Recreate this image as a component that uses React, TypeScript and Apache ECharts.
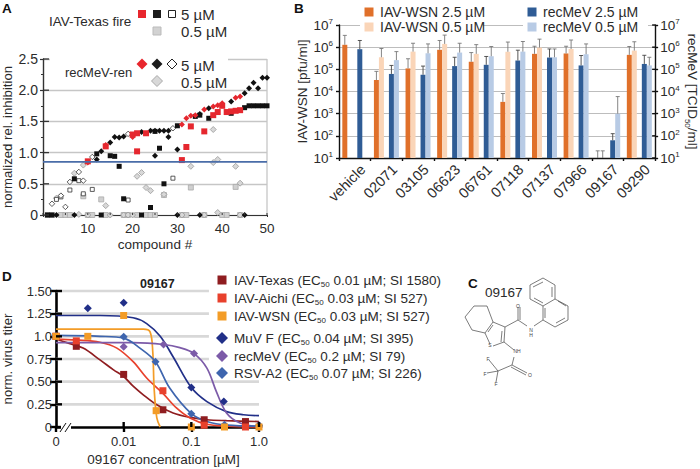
import React, { useEffect, useRef } from "react";
import * as echarts from "echarts";

const FONT = "Liberation Sans";
const INK = "#2b2b2b";

// ---------- Panel A ----------
const aRedSquares = [[10,0.86],[14,1.1],[20,1.29],[21,1.31],[21,1.02],[23,1.31],[31,0.88],[32,1.09],[33,1.42],[36,1.34],[38,1.6],[39,1.65],[40,1.75],[41,1.65],[42,1.66],[43,1.67],[44,1.68]];
const aRedDiamonds = [[10,0.84],[14,1.12],[20,1.25],[31,1.45],[32,1.55],[33,1.59],[34,1.6],[36,1.69],[38,1.74],[39,1.76],[40,1.79],[43,1.88],[44,1.9]];
const aBlackSquares = [[1,0],[2,0],[7,0.58],[12,0.98],[13,0],[15,0.95],[16,0.94],[17,0.78],[18,0.26],[22,0],[24,0.12],[25,1.34],[26,1.07],[27,0.5],[30,1.43],[34,1.58],[35,1.6],[37,1.55],[42,1.63],[45,1.72],[46,1.75],[47,1.75],[48,1.75],[49,1.75],[50,1.75]];
const aBlackDiamonds = [[3,0],[7,0],[12,0.89],[13,1.02],[15,1.16],[16,1.25],[17,1.24],[18,1.26],[22,1.33],[24,1.35],[25,1.35],[26,1.35],[27,1.35],[28,1.35],[28,1.25],[25,0.95],[30,1.05],[30,0],[35,1.62],[35,0],[37,1.71],[42,1.82],[45,1.95],[45,0],[46,2.03],[47,2.12],[48,2.03],[49,2.2],[50,2.2]];
const aOpenSquares = [[3,0.25],[4,0.29],[6,0.4],[8,0.55],[9,0.34],[11,0.41],[19,0.24],[29,0.59]];
const aOpenDiamonds = [[2,0.18],[4,0.31],[5,0.13],[6,0.53],[8,0.69],[9,0.55],[11,0.93],[19,1.3],[29,1.39]];
const aGraySquares = [[1,0],[2,0],[4,0],[5,0],[6,0],[9,0.3],[10,0],[11,0],[13,0.25],[14,0],[18,0],[19,0],[21,0],[23,0],[24,0],[25,0],[27,0.32],[31,0],[32,0],[33,0.44],[36,0],[40,0],[41,0],[43,0.45],[44,0]];
const aGrayDiamonds = [[3,0.27],[7,0.67],[8,0.01],[9,0.8],[10,0],[14,0.15],[15,0],[18,0],[19,0],[20,0],[21,0.62],[22,0.68],[23,0.44],[24,0.39],[27,0.33],[31,0],[33,0.78],[36,0],[38,1.37],[38,0.84],[39,0.89],[39,0.04],[43,0.78],[44,0.51],[44,0]];
const aThreshold = 0.85;

// ---------- Panel B ----------
const bCategories = ["vehicle","02071","03105","06623","06761","07118","07137","07966","09167","09290"];
const wsn25 = [1.28e6,3.3e4,1.1e5,7.6e5,2.2e5,3.4e3,5e5,5.2e5,null,4.5e5];
const wsn25Err = [3.4e6,8.1e4,3e5,2e6,5.7e5,8.1e3,1.1e6,1.1e6,21,1.07e6];
const wsn05 = [null,3.5e5,6.3e5,1.4e6,5e5,6.2e5,9.6e5,8.3e5,null,7e5];
const wsn05Err = [null,8.7e5,1.5e6,3.5e6,1.3e6,1.7e6,2.3e6,2.1e6,21,1.75e6];
const mev25 = [8.1e5,6.2e4,5.7e4,1.4e5,1.6e5,2.5e5,3.4e5,1.5e5,63,1.75e5];
const mev25Err = [2e6,1.5e5,1.4e5,3.5e5,3.8e5,7.3e5,8.3e5,4.2e5,125,4.3e5];
const mev05 = [null,2.6e5,5.3e5,5.7e5,3.9e5,6.3e5,3.5e5,4.8e5,1e3,1.5e5];
const mev05Err = [null,6.3e5,1.4e6,1.5e6,1.07e6,1.8e6,8.3e5,1.4e6,5.9e3,3.5e5];
const bTicks = [1e1,1e2,1e3,1e4,1e5,1e6,1e7];

// ---------- Panel D (x = log10 of the concentration; the "0" dose sits at -3) ----------
const dXLabels: Record<string,string> = { "-3":"0", "-2":"0.01", "-1":"0.1", "0":"1.0" };
const dYLabels = ["0","0.25","0.50","0.75","1.0","1.25","1.50"];
const texasCurve = [[-3,0.97],[-2.84,0.93],[-2.6,0.87],[-2.35,0.74],[-2.15,0.63],[-2,0.557],[-1.86,0.45],[-1.71,0.355],[-1.51,0.245],[-1.27,0.154],[-1.02,0.106],[-0.77,0.08],[-0.48,0.07],[0,0.06]];
const aichiCurve = [[-3,0.97],[-2.7,0.96],[-2.35,0.935],[-2.1,0.87],[-1.86,0.72],[-1.66,0.54],[-1.42,0.37],[-1.22,0.21],[-1.02,0.1],[-0.77,0.03],[-0.48,0.01],[0,0]];
const wsnCurve = [[-3,1.08],[-2.35,1.08],[-1.71,1.08],[-1.61,1.05],[-1.57,0.83],[-1.55,0.43],[-1.51,0.1],[-1.46,0]];
const muvCurve = [[-3,1.23],[-2.35,1.23],[-1.86,1.205],[-1.66,1.14],[-1.46,1],[-1.27,0.775],[-1,0.435],[-0.77,0.28],[-0.48,0.17],[-0.23,0.135],[0,0.125]];
const recMevCurve = [[-3,0.93],[-1.86,0.93],[-1.41,0.91],[-1.17,0.875],[-0.96,0.81],[-0.77,0.65],[-0.63,0.39],[-0.48,0.155],[-0.28,0.044],[0,0.004]];
const rsvCurve = [[-3,1.01],[-2.35,1],[-2,0.98],[-1.76,0.87],[-1.53,0.72],[-1.32,0.43],[-1,0.147],[-0.77,0.06],[-0.48,0.02],[0,0.01]];
const texasPts = [[-3,1],[-2.7,0.89],[-2,0.58],[-1.42,0.19],[-0.81,0.08],[-0.2,0.06]];
const aichiPts = [[-3,1],[-2.7,0.95],[-1.42,0.4],[-0.81,0.02],[-0.2,0]];
const wsnPts = [[-3,1],[-2.53,1],[-2,1.23],[-1.52,0.18],[-1,0],[-0.51,0],[0,0]];
const muvPts = [[-2.53,1.31],[-2,1.37],[-1,0.435],[-0.52,0.28],[0,0.02]];
const recMevPts = [[-3,1],[-2,0.885],[-1.41,0.91],[-0.96,0.81],[0,0]];
const rsvPts = [[-3,1],[-2,0.995],[-1.53,0.72],[-1,0.147],[-0.51,0.025],[0,0.01]];
const dLegend = [
  ["IAV-Texas (EC","0.01 µM; SI 1580)"],
  ["IAV-Aichi (EC","0.03 µM; SI 527)"],
  ["IAV-WSN (EC","0.03 µM; SI 527)"],
  ["MuV F (EC","0.04 µM; SI 395)"],
  ["recMeV (EC","0.2 µM; SI 79)"],
  ["RSV-A2 (EC","0.07 µM; SI 226)"],
];
const dColors = ["#8f1d20","#e8412c","#f39c27","#212f88","#7c5ba8","#3e65ae"];

// ---------- Panel C: skeletal bonds, in the picture's pixels ----------
const chemBonds = [
  [[530,285],[543,278],[555,285],[555,299],[543,306],[530,299],[530,285]],
  [[555,299],[568,306],[568,320],[555,327],[543,320],[543,306]],
  [[533,287],[543,282]],[[552,287],[552,297]],[[534,298],[543,303]],
  [[558,301],[566,306]],[[565,318],[556,323]],[[545,318],[545,308]],
  [[543,320],[534,326]],[[527,326],[518,320]],[[518,320],[518,307]],[[520,320],[520,307]],
  [[518,320],[505,327]],[[505,327],[493,322],[485,333],[490,344]],[[493,346],[504,342],[505,327]],
  [[501,342],[502,331]],[[493,325],[488,332]],
  [[493,322],[487,306],[474,306],[465,317],[472,330],[485,333]],
  [[504,342],[514,350]],[[514,357],[512,365]],[[512,365],[527,373]],[[511,367],[526,375]],
  [[512,365],[498,371]],[[498,371],[489,360]],[[498,371],[487,373]],[[498,371],[496,382]],
];
const chemLabels: [number,number,string][] = [[518,306,"O"],[531,330,"N"],[531,335,"H"],[490,345,"S"],[517,351,"NH"],[530,375,"O"],[488,359,"F"],[485,374,"F"],[496,384,"F"]];

const squareSym = "rect";
const diamondSym = "diamond";

function scatter(gridIdx: number, data: number[][], symbol: string, size: number, color: string, border?: string, z = 5) {
  return {
    type: "scatter", xAxisIndex: gridIdx, yAxisIndex: gridIdx === 0 ? 0 : 3, data, symbol, symbolSize: size, z, clip: false,
    itemStyle: { color, borderColor: border ?? color, borderWidth: border ? 0.8 : 0, opacity: 1 },
  };
}

function errorSeries(vals: (number|null)[], errs: (number|null)[], offset: number, color: string) {
  const data = errs.map((e, i) => (e == null ? null : [i, vals[i] ?? 10, e])).filter(Boolean);
  return {
    type: "custom", xAxisIndex: 1, yAxisIndex: 1, data, z: 4,
    renderItem: (_p: any, api: any) => {
      const b = api.coord([api.value(0), api.value(1)]);
      const t = api.coord([api.value(0), api.value(2)]);
      const x = b[0] + offset;
      const st = { stroke: color, lineWidth: 0.9 };
      return { type: "group", children: [
        { type: "line", shape: { x1: x, y1: b[1], x2: x, y2: t[1] }, style: st },
        { type: "line", shape: { x1: x - 2, y1: t[1], x2: x + 2, y2: t[1] }, style: st },
      ]};
    },
  };
}

// inward half of the ticks that cross an axis
function inwardTicks(xi: number, yi: number, vals: number[], orient: "x"|"y", len: number, color: string, w: number, edge: "start"|"end" = "start") {
  return {
    type: "custom", xAxisIndex: xi, yAxisIndex: yi, z: 9, silent: true,
    data: vals.map(v => (orient === "y" ? [0, v] : [v, 0])),
    renderItem: (p: any, api: any) => {
      const cs = p.coordSys;
      const c = api.coord([api.value(0), api.value(1)]);
      const st = { stroke: color, lineWidth: w };
      if (orient === "y") {
        const x = edge === "start" ? cs.x : cs.x + cs.width;
        const d = edge === "start" ? len : -len;
        return { type: "line", shape: { x1: x, y1: c[1], x2: x + d, y2: c[1] }, style: st };
      }
      return { type: "line", shape: { x1: c[0], y1: cs.y + cs.height, x2: c[0], y2: cs.y + cs.height - len }, style: st };
    },
  };
}

function bandLine(xi: number, yi: number, rows: number[][], color: string, width: number) {
  return {
    type: "custom", xAxisIndex: xi, yAxisIndex: yi, z: 1, silent: true, data: rows,
    renderItem: (_p: any, api: any) => {
      const a = api.coord([api.value(0), api.value(2)]);
      const b = api.coord([api.value(1), api.value(2)]);
      return { type: "line", shape: { x1: a[0], y1: a[1], x2: b[0], y2: b[1] }, style: { stroke: color, lineWidth: width } };
    },
  };
}

function txt(x: number, y: number, text: string, size = 13.5, extra: any = {}) {
  const { rotation, ...style } = extra;
  return { type: "text", x, y, rotation, z: 20, silent: true, style: { text, fontSize: size, fontFamily: FONT, fill: INK, verticalAlign: "middle", ...style } };
}
function sq(cx: number, cy: number, s: number, fill: string, stroke?: string) {
  return { type: "rect", z: 20, silent: true, shape: { x: cx - s/2, y: cy - s/2, width: s, height: s }, style: { fill, stroke: stroke ?? fill, lineWidth: stroke ? 1 : 0 } };
}
function dia(cx: number, cy: number, r: number, fill: string, stroke?: string) {
  return { type: "polygon", z: 20, silent: true, shape: { points: [[cx,cy-r],[cx+r,cy],[cx,cy+r],[cx-r,cy]] }, style: { fill, stroke: stroke ?? fill, lineWidth: stroke ? 1 : 0 } };
}
const subRich = {
  b: { fontSize: 13.5, fontFamily: FONT, fill: INK, color: INK, lineHeight: 17 },
  s: { fontSize: 8, fontFamily: FONT, fill: INK, color: INK, verticalAlign: "bottom", lineHeight: 17 },
};

export default function App() {
  const ref = useRef<HTMLDivElement>(null);
  useEffect(() => {
    document.body.style.margin = "0";
    const chart = echarts.init(ref.current!, undefined, { renderer: "svg" });
    const axisTxt = { fontFamily: FONT, color: INK };
    const supRich = {
      b: { fontSize: 13.5, fontFamily: FONT, color: INK, lineHeight: 15 },
      s: { fontSize: 8, fontFamily: FONT, color: INK, verticalAlign: "top", lineHeight: 15 },
    };
    const logFmt = (v: number) => `{b|10}{s|${Math.round(Math.log10(v))}}`;
    const bLog = {
      type: "log", logBase: 10, gridIndex: 1, min: 10, max: 1e7,
      axisLine: { show: true, onZero: false, lineStyle: { color: "#111", width: 1.4 } },
      axisTick: { show: true, length: 3, lineStyle: { color: "#111", width: 1.4 } },
      minorTick: { show: false }, minorSplitLine: { show: false },
    };

    const graphic: any[] = [
      txt(2, 8, "A", 13.5, { fontWeight: "bold", fill: "#111" }),
      txt(294, 8, "B", 13.5, { fontWeight: "bold", fill: "#111" }),
      txt(468, 283, "C", 13.5, { fontWeight: "bold", fill: "#111" }),
      txt(2, 276, "D", 13.5, { fontWeight: "bold", fill: "#111" }),
      // panel A key
      { type: "rect", z: 15, silent: true, shape: { x: 50, y: 56, width: 178, height: 6 }, style: { fill: "#fff" } },
      txt(49, 21, "IAV-Texas fire", 13.5),
      sq(142, 14, 8, "#e8262d"), sq(157, 14, 8, "#1c1c1c"), sq(172, 14, 7, "#fff", "#222"),
      txt(181, 14, "5 µM", 15), sq(157, 31, 8, "#d2d2d2", "#bbb"), txt(181, 31, "0.5 µM", 15),
      txt(65, 72, "recMeV-ren", 13),
      dia(142, 64, 5.5, "#e8262d"), dia(157, 64, 5.5, "#1c1c1c"), dia(172, 64, 5, "#fff", "#222"),
      txt(181, 65, "5 µM", 15), dia(157, 81, 5.5, "#d8d8d8", "#aaa"), txt(181, 82, "0.5 µM", 15),
      // panel B key, on white over the top gridline
      { type: "rect", z: 15, silent: true, shape: { x: 360, y: 21, width: 123, height: 8 }, style: { fill: "#fff" } },
      { type: "rect", z: 15, silent: true, shape: { x: 523, y: 21, width: 125, height: 8 }, style: { fill: "#fff" } },
      sq(369, 12, 9, "#e0702a"), txt(380, 12, "IAV-WSN 2.5 µM", 14),
      sq(369, 27, 9, "#fad5b8"), txt(380, 27, "IAV-WSN 0.5 µM", 14),
      sq(532, 12, 9, "#2f5c95"), txt(543, 12, "recMeV 2.5 µM", 14),
      sq(532, 27, 9, "#b8cbe5"), txt(543, 27, "recMeV 0.5 µM", 14),
      // panel D: axis break and title
      { type: "rect", z: 15, silent: true, shape: { x: 61, y: 423, width: 10, height: 8 }, style: { fill: "#fff" } },
      { type: "line", z: 16, silent: true, shape: { x1: 60, y1: 432, x2: 66, y2: 423 }, style: { stroke: "#111", lineWidth: 1 } },
      { type: "line", z: 16, silent: true, shape: { x1: 65, y1: 432, x2: 71, y2: 423 }, style: { stroke: "#111", lineWidth: 1 } },
      txt(140, 284, "09167", 12.5, { fontWeight: "bold", fill: "#222" }),
      // panel C
      txt(485, 292, "09167", 13.5),
      ...chemBonds.map(points => ({ type: "polyline", z: 20, silent: true, shape: { points }, style: { stroke: "#444", lineWidth: 0.7, fill: "none" } })),
      ...chemLabels.map(([x, y, t]) => txt(x, y, t, 5, { align: "center", fill: "#444" })),
    ];
    const dRows = [280, 298, 316, 338, 356, 373];
    dLegend.forEach((row, i) => {
      const c = dColors[i];
      graphic.push(i < 3 ? sq(222, dRows[i], 9, c) : dia(222, dRows[i], 6, c));
      graphic.push({
        type: "text", x: 234, y: dRows[i], z: 20, silent: true,
        style: { text: `{b|${row[0]}}{s|50}{b| ${row[1]}}`, rich: subRich, verticalAlign: "middle", fontFamily: FONT, fontSize: 13.5 },
      });
    });

    const curve = (data: number[][], color: string) => ({
      type: "line", xAxisIndex: 2, yAxisIndex: 3, data, smooth: 0.35, showSymbol: false, symbol: "none", z: 4, clip: false,
      lineStyle: { color, width: 1.7 },
    });

    const series: any[] = [
      // panel A
      { type: "line", xAxisIndex: 0, yAxisIndex: 0, data: [[50, 0],[50, 2.5]], symbol: "none", z: 1, lineStyle: { color: "#c6c6c6", width: 1.3 } },
      scatter(0, aGraySquares, squareSym, 5, "#d0d0d0", "#aaa", 3),
      scatter(0, aGrayDiamonds, diamondSym, 6, "#d8d8d8", "#999", 3),
      scatter(0, aOpenSquares, squareSym, 4, "#fff", "#333", 4),
      scatter(0, aOpenDiamonds, diamondSym, 5.5, "#fff", "#333", 4),
      scatter(0, aBlackSquares, squareSym, 5, "#111", undefined, 5),
      scatter(0, aBlackDiamonds, diamondSym, 6, "#111", undefined, 5),
      scatter(0, aRedDiamonds, diamondSym, 6, "#e5272e", undefined, 6),
      scatter(0, aRedSquares, squareSym, 6, "#e5272e", undefined, 7),
      { type: "line", xAxisIndex: 0, yAxisIndex: 0, data: [[0, aThreshold],[50, aThreshold]], symbol: "none", z: 8, lineStyle: { color: "#4a6da8", width: 1.8 } },
      inwardTicks(0, 0, [0,0.5,1,1.5,2,2.5], "y", 6, "#333", 1.3),
      inwardTicks(0, 0, [0,5,10,15,20,25,30,35,40,45,50], "x", 2, "#333", 1),
      // panel B
      ...[
        { data: wsn25, color: "#e0702a" },
        { data: wsn05, color: "#fad5b8" },
        { data: bCategories.map(() => null), color: "#fff" },
        { data: mev25, color: "#2f5c95" },
        { data: mev05, color: "#b8cbe5" },
      ].map(s => ({ type: "bar", xAxisIndex: 1, yAxisIndex: 1, data: s.data, barWidth: 5, barGap: 0, z: 3, itemStyle: { color: s.color } })),
      errorSeries(wsn25, wsn25Err, -10, "#777"),
      errorSeries(wsn05, wsn05Err, -5, "#777"),
      errorSeries(mev25, mev25Err, 5, "#444"),
      errorSeries(mev05, mev05Err, 10, "#777"),
      inwardTicks(1, 2, bTicks, "y", 3, "#111", 1.4, "end"),
      // panel D
      bandLine(2, 3, [[-3,-0.74,1.5],[-3,-0.74,1.25],[-3,-0.74,1],[-3,-0.74,0.75],[-3,0,0.5],[-3,0,0.25]], "#d8d8d8", 2.6),
      curve(texasCurve, dColors[0]), curve(aichiCurve, dColors[1]), curve(wsnCurve, dColors[2]),
      curve(muvCurve, dColors[3]), curve(recMevCurve, dColors[4]), curve(rsvCurve, dColors[5]),
      scatter(2, texasPts, squareSym, 7, dColors[0]),
      scatter(2, aichiPts, squareSym, 7, dColors[1]),
      scatter(2, muvPts, diamondSym, 8, dColors[3]),
      scatter(2, recMevPts, diamondSym, 8, dColors[4]),
      scatter(2, rsvPts, diamondSym, 8, dColors[5]),
      scatter(2, wsnPts, squareSym, 7, dColors[2], undefined, 6),
      inwardTicks(2, 3, [0,0.25,0.5,0.75,1,1.25,1.5], "y", 6, "#000", 2.4),
      inwardTicks(2, 3, [-2,-1,0], "x", 5, "#000", 2.4),
    ];

    chart.setOption({
      animation: false,
      backgroundColor: "#fff",
      textStyle: { fontFamily: FONT },
      graphic,
      grid: [
        { left: 43, top: 59, width: 224, height: 156 },
        { left: 339, top: 25, width: 320, height: 133 },
        { left: 56, top: 291, width: 203, height: 136 },
      ],
      xAxis: [
        {
          type: "value", gridIndex: 0, min: 0, max: 50, interval: 5,
          axisLine: { show: true, onZero: false, lineStyle: { color: "#333", width: 1.2 } },
          axisTick: { show: true, length: 2, lineStyle: { color: "#333" } },
          splitLine: { show: false },
          axisLabel: { ...axisTxt, fontSize: 13.5, margin: 6, formatter: (v: number) => (v > 0 && v % 10 === 0 ? String(v) : "") },
          name: "compound #", nameLocation: "middle", nameGap: 22, nameTextStyle: { ...axisTxt, fontSize: 13.5 },
        },
        {
          type: "category", gridIndex: 1, data: bCategories,
          axisLine: { show: true, lineStyle: { color: "#111", width: 1.4 } },
          axisTick: { show: true, alignWithLabel: false, length: 3, inside: false, lineStyle: { color: "#111", width: 1.4 } },
          axisLabel: { ...axisTxt, fontSize: 14.5, rotate: 45, margin: 1, interval: 0, align: "right", verticalAlign: "top", padding: [4, 0, 0, 0] },
        },
        {
          type: "value", gridIndex: 2, min: -3, max: 0, interval: 1,
          axisLine: { show: true, onZero: false, lineStyle: { color: "#000", width: 2.6 } },
          axisTick: { show: true, length: 5, lineStyle: { color: "#000", width: 2.4 } },
          splitLine: { show: false },
          axisLabel: { ...axisTxt, fontSize: 13, margin: 8, formatter: (v: number) => dXLabels[String(v)] ?? "" },
          name: "09167 concentration [µM]", nameLocation: "middle", nameGap: 25, nameTextStyle: { ...axisTxt, fontSize: 13.5, padding: [0, 0, 0, 12] },
        },
      ],
      yAxis: [
        {
          type: "value", gridIndex: 0, min: 0, max: 2.5, interval: 0.5,
          axisLine: { show: true, onZero: false, lineStyle: { color: "#333", width: 1.4 } },
          axisTick: { show: true, length: 3, lineStyle: { color: "#333", width: 1.2 } },
          minorTick: { show: true, splitNumber: 2, length: 2, lineStyle: { color: "#333" } },
          splitLine: { show: true, lineStyle: { color: "#c6c6c6", width: 1.3 } },
          axisLabel: { ...axisTxt, fontSize: 14, margin: 5, formatter: (v: number) => (v === 0 ? "0" : v.toFixed(1)) },
          name: "normalized rel. inhibition", nameLocation: "middle", nameGap: 29, nameTextStyle: { ...axisTxt, fontSize: 13.2 },
        },
        {
          ...bLog, position: "left",
          splitLine: { show: true, lineStyle: { color: "#bdbdbd", width: 1.2 } },
          axisLabel: { formatter: logFmt, rich: supRich, margin: 6 },
          name: "IAV-WSN [pfu/ml]", nameLocation: "middle", nameGap: 27, nameTextStyle: { ...axisTxt, fontSize: 13.5 },
        },
        {
          ...bLog, position: "right",
          splitLine: { show: false },
          axisLabel: { formatter: logFmt, rich: supRich, margin: 5 },
          name: "{b|recMeV [TCID}{s|50}{b|/ml]}", nameLocation: "middle", nameGap: 24, nameRotate: -90,
          nameTextStyle: {
            ...axisTxt, fontSize: 13.5,
            rich: {
              b: { fontSize: 13.5, fontFamily: FONT, color: INK, lineHeight: 17 },
              s: { fontSize: 8, fontFamily: FONT, color: INK, verticalAlign: "bottom", lineHeight: 17 },
            },
          },
        },
        {
          type: "value", gridIndex: 2, min: 0, max: 1.5, interval: 0.25,
          axisLine: { show: true, onZero: false, lineStyle: { color: "#000", width: 2.6 } },
          axisTick: { show: true, length: 6, lineStyle: { color: "#000", width: 2.4 } },
          splitLine: { show: false },
          axisLabel: { ...axisTxt, fontSize: 13, margin: 4, formatter: (_v: number, i: number) => dYLabels[i] },
          name: "norm. virus titer", nameLocation: "middle", nameGap: 42, nameTextStyle: { ...axisTxt, fontSize: 13.2 },
        },
      ],
      series,
    });
    return () => chart.dispose();
  }, []);
  return <div ref={ref} style={{ position: "absolute", left: 0, top: 0, width: 700, height: 469 }} />;
}
